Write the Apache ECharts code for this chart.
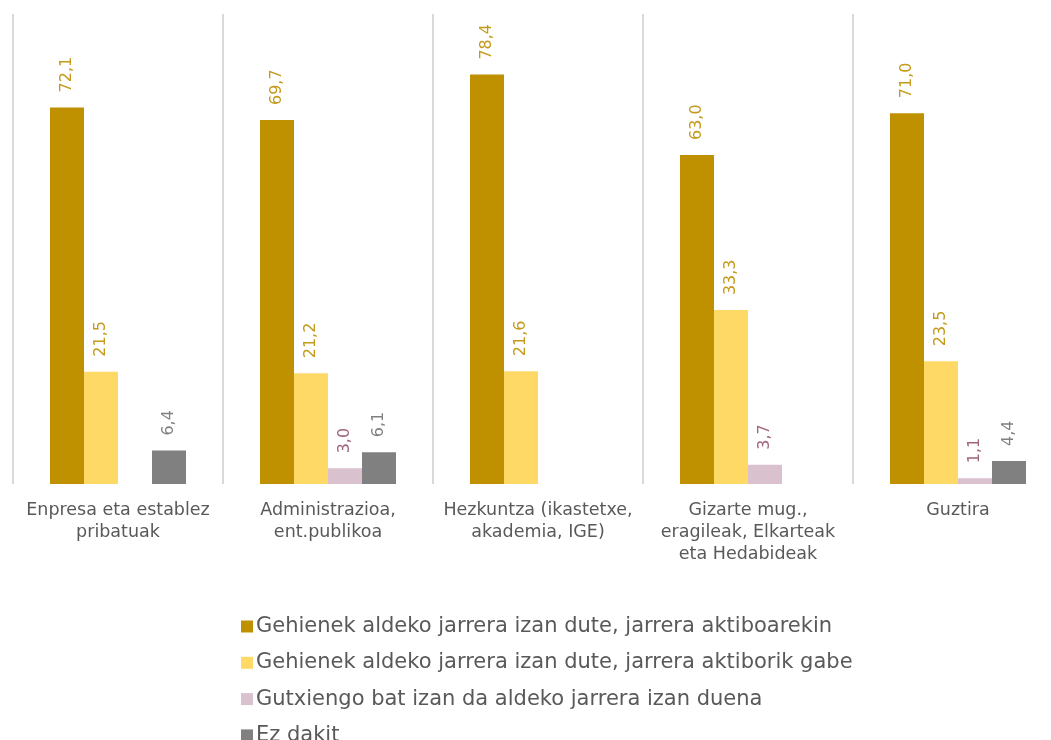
<!DOCTYPE html>
<html><head><meta charset="utf-8">
<script src="https://cdn.jsdelivr.net/npm/echarts@6/dist/echarts.min.js"></script>
<style>html,body{margin:0;padding:0;background:#fff;overflow:hidden}#c{width:1063px;height:740px}</style>
</head><body><div id="c"></div>
<script>
const categories = ['Enpresa eta establez\npribatuak', 'Administrazioa,\nent.publikoa', 'Hezkuntza (ikastetxe,\nakademia, IGE)', 'Gizarte mug.,\neragileak, Elkarteak\neta Hedabideak', 'Guztira'];
const seriesNames = ['Gehienek aldeko jarrera izan dute, jarrera aktiboarekin', 'Gehienek aldeko jarrera izan dute, jarrera aktiborik gabe', 'Gutxiengo bat izan da aldeko jarrera izan duena', 'Ez dakit'];
const s1 = [72.1, 69.7, 78.4, 63.0, 71.0];
const s2 = [21.5, 21.2, 21.6, 33.3, 23.5];
const s3 = [null, 3.0, null, 3.7, 1.1];
const s4 = [6.4, 6.1, null, null, 4.4];
const barColors = ['#BF9000', '#FFD966', '#D9C2CE', '#808080'];
const labelColors = ['#C49A1A', '#C49A1A', '#A0647F', '#808080'];
const FONT = '"DejaVu Sans", sans-serif';
const data = [s1, s2, s3, s4];
const chart = echarts.init(document.getElementById('c'), null, {renderer: 'canvas'});
chart.setOption({
  animation: false,
  textStyle: {fontFamily: FONT},
  grid: {left: 13, top: 14, right: 0, bottom: 256, containLabel: false},
  xAxis: {
    type: 'category', data: categories,
    axisLine: {show: false}, axisTick: {show: false},
    splitLine: {show: true, lineStyle: {color: '#D9D9D9', width: 2}},
    axisLabel: {color: '#595959', fontSize: 17.5, lineHeight: 22, margin: 15, fontFamily: FONT, interval: 0}
  },
  yAxis: {type: 'value', min: 0, max: 90, show: false, splitLine: {show: false}},
  legend: {
    orient: 'vertical', left: 241, top: 616, height: 140, padding: 0, itemWidth: 12, itemHeight: 12, itemGap: 15.3,
    icon: 'rect',
    textStyle: {color: '#595959', fontSize: 21, lineHeight: 20, fontFamily: FONT, padding: [0,0,0,-2]},
    data: seriesNames
  },
  series: data.map((d, i) => ({
    name: seriesNames[i], type: 'bar', data: d, barWidth: 34, barGap: '0%',
    itemStyle: {color: barColors[i]},
    label: {
      show: true, position: 'top', rotate: 90, align: 'left', verticalAlign: 'middle', distance: 15,
      color: labelColors[i], fontSize: 16, fontFamily: FONT,
      formatter: p => p.value == null ? '' : p.value.toFixed(1).replace('.', ',')
    }
  }))
});
</script></body></html>
